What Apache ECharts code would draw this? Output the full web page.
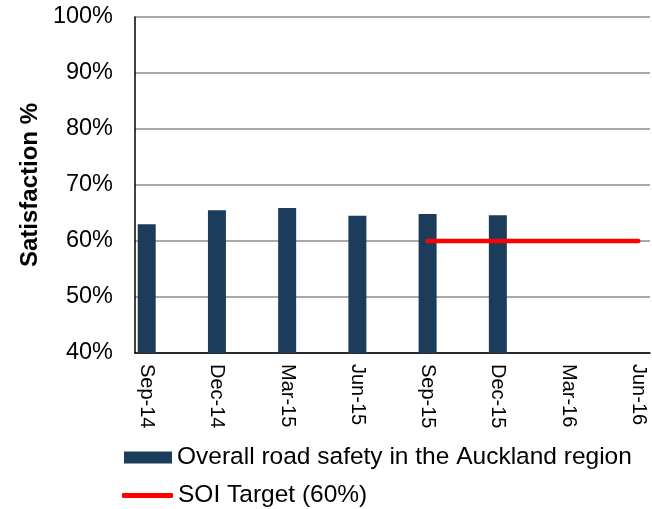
<!DOCTYPE html>
<html>
<head>
<meta charset="utf-8">
<script src="https://cdn.jsdelivr.net/npm/echarts@6/dist/echarts.min.js"></script>
<style>html,body{margin:0;padding:0;background:#fff}#c{width:652px;height:509px}</style>
</head>
<body>
<div id="c"></div>
<script>
// Quarterly tick labels (the axis is a monthly date axis)
const quarters = ['Sep-14','Dec-14','Mar-15','Jun-15','Sep-15','Dec-15','Mar-16','Jun-16'];
const roadSafety = [63.0, 65.5, 65.9, 64.5, 64.8, 64.6, null, null];
const soiTarget = [null, null, null, null, 60, 60, 60, 60];
const yTicks = [40, 50, 60, 70, 80, 90, 100];

// Build monthly categories: each quarter followed by two in-between months
const months = [], barData = [], lineData = [];
quarters.forEach((q, i) => {
  months.push(q); barData.push(roadSafety[i]); lineData.push(soiTarget[i]);
  if (i < quarters.length - 1) {
    for (let k = 0; k < 2; k++) { months.push(q + '_' + k); barData.push(null); lineData.push(null); }
  }
});

const chart = echarts.init(document.getElementById('c'), null, {renderer: 'canvas'});
const font = 'Liberation Sans, Arial, sans-serif';
chart.setOption({
  animation: false,
  textStyle: {fontFamily: font, color: '#000'},
  grid: {left: 135, right: 2, top: 17, bottom: 156},
  legend: [
    {
      data: ['Overall road safety in the Auckland region'],
      left: 124, top: 445, padding: 0,
      icon: 'rect', itemWidth: 48, itemHeight: 12,
      textStyle: {fontSize: 24.5, color: '#000', fontFamily: font}
    },
    {
      data: ['SOI Target (60%)'],
      left: 122, top: 483, padding: 0,
      icon: 'roundRect', itemWidth: 51, itemHeight: 5,
      textStyle: {fontSize: 24.5, color: '#000', fontFamily: font}
    }
  ],
  xAxis: {
    type: 'category',
    data: months,
    boundaryGap: true,
    axisLine: {lineStyle: {color: '#000', width: 1.5}},
    axisTick: {show: false},
    axisLabel: {
      interval: 2, rotate: -90, fontSize: 20, color: '#000', margin: 11,
      fontFamily: font,
      formatter: v => quarters.indexOf(v) >= 0 ? v : ''
    },
    splitLine: {show: false}
  },
  yAxis: {
    type: 'value',
    min: yTicks[0], max: yTicks[yTicks.length - 1], interval: 10,
    name: 'Satisfaction %',
    nameLocation: 'middle', nameRotate: 90, nameGap: 90,
    nameTextStyle: {fontSize: 24, fontWeight: 'bold', color: '#000', fontFamily: font},
    axisLine: {show: true, lineStyle: {color: '#000', width: 1.5}},
    axisTick: {show: false},
    axisLabel: {formatter: '{value}%', fontSize: 23.5, color: '#000', margin: 22, fontFamily: font},
    splitLine: {lineStyle: {color: '#8c8c8c', width: 1.5}}
  },
  series: [
    {
      name: 'Overall road safety in the Auckland region',
      type: 'bar',
      data: barData,
      barWidth: 18,
      itemStyle: {color: '#1b3d5b'}
    },
    {
      name: 'SOI Target (60%)',
      type: 'line',
      data: lineData,
      connectNulls: true,
      symbol: 'none',
      lineStyle: {color: '#ff0000', width: 4.5, cap: 'round'},
      itemStyle: {color: '#ff0000'}
    }
  ]
});
</script>
</body>
</html>
